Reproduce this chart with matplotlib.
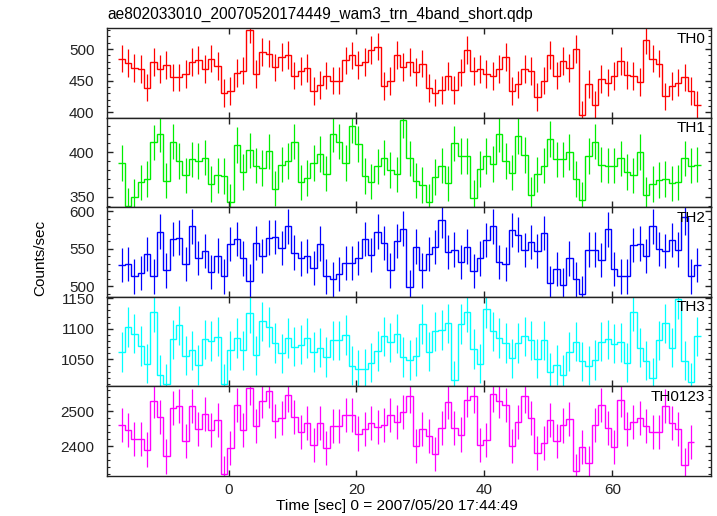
import numpy as np
import matplotlib
matplotlib.use("Agg")
import matplotlib.pyplot as plt
from matplotlib.ticker import MultipleLocator

plt.rcParams['font.family'] = ['Liberation Sans', 'DejaVu Sans']

# time binning (1 s bins)
t_start = -17.2
n_bins = 91
edges = t_start + np.arange(n_bins + 1)
centers = edges[:-1] + 0.5

th0 = [485, 478, 470, 468, 439, 480, 469, 475, 455, 455, 460, 479, 483, 469, 485, 473,
       430, 433, 462, 466, 531, 460, 495, 493, 471, 487, 491, 458, 465, 470, 433, 443,
       458, 450, 450, 482, 490, 475, 480, 498, 504, 441, 449, 491, 472, 480, 464, 477,
       438, 431, 435, 457, 435, 463, 499, 465, 469, 460, 457, 468, 487, 433, 444, 469,
       465, 424, 450, 491, 458, 481, 470, 500, 395, 445, 411, 453, 447, 457, 481, 459,
       457, 448, 515, 485, 477, 425, 441, 447, 455, 433, 412]
th1 = [388, 340, 350, 366, 370, 411, 420, 368, 412, 390, 374, 392, 390, 394, 364, 374,
       373, 344, 408, 378, 402, 385, 382, 401, 359, 386, 390, 412, 366, 371, 388, 398,
       376, 420, 412, 388, 430, 409, 373, 367, 384, 394, 380, 375, 436, 393, 368, 363,
       344, 372, 385, 365, 410, 396, 396, 349, 381, 396, 387, 420, 390, 377, 418, 397,
       352, 375, 385, 415, 392, 392, 400, 370, 346, 396, 412, 386, 385, 385, 393, 378,
       374, 400, 352, 364, 369, 370, 365, 366, 393, 385, 386]
th2 = [528, 530, 513, 518, 543, 513, 573, 521, 563, 565, 530, 580, 538, 547, 519, 541,
       513, 556, 563, 537, 507, 558, 540, 565, 566, 551, 580, 545, 537, 540, 524, 557,
       513, 509, 516, 531, 531, 538, 563, 542, 573, 558, 521, 560, 577, 499, 553, 521,
       543, 552, 588, 546, 549, 532, 553, 520, 537, 562, 580, 532, 530, 575, 569, 548,
       559, 547, 571, 504, 523, 501, 537, 509, 490, 549, 549, 535, 576, 523, 513, 513,
       555, 557, 540, 580, 550, 547, 562, 549, 592, 513, 528]
th3 = [1062, 1103, 1092, 1072, 1043, 1127, 1025, 1010, 1083, 1106, 1056, 1065, 1041, 1083, 1080, 1087,
       1010, 1065, 1085, 1065, 1125, 1057, 1112, 1103, 1077, 1060, 1085, 1071, 1074, 1085, 1062, 1069,
       1054, 1081, 1081, 1090, 1040, 1034, 1035, 1045, 1064, 1088, 1078, 1092, 1054, 1049, 1055, 1108,
       1063, 1096, 1098, 1109, 1016, 1108, 1127, 1067, 1043, 1133, 1096, 1085, 1077, 1052, 1077, 1088,
       1081, 1051, 1081, 1029, 1041, 1025, 1063, 1079, 1047, 1040, 1049, 1079, 1083, 1076, 1078, 1045,
       1128, 1069, 1048, 1020, 1081, 1109, 1069, 1148, 1048, 1013, 1088]
th0123 = [2461, 2447, 2421, 2421, 2390, 2530, 2484, 2370, 2510, 2514, 2415, 2515, 2448, 2492, 2445, 2475,
          2321, 2395, 2517, 2445, 2568, 2458, 2530, 2559, 2472, 2481, 2547, 2484, 2440, 2465, 2403, 2466,
          2395, 2458, 2458, 2490, 2488, 2436, 2450, 2467, 2455, 2461, 2489, 2470, 2498, 2545, 2400, 2450,
          2429, 2378, 2452, 2527, 2452, 2433, 2533, 2543, 2402, 2417, 2548, 2529, 2519, 2400, 2470, 2543,
          2481, 2379, 2408, 2474, 2414, 2459, 2478, 2329, 2398, 2352, 2461, 2517, 2452, 2397, 2533, 2448,
          2470, 2481, 2457, 2440, 2440, 2516, 2467, 2448, 2346, 2411]

series = [th0, th1, th2, th3, th0123]
errors = [22, 20, 23, 32, 49]
names = ['TH0', 'TH1', 'TH2', 'TH3', 'TH0123']
colors = ['#ff0000', '#00ee00', '#0000ff', '#00ffff', '#ff00ff']
ylims = [(391, 533), (338, 438.7), (485.5, 605.5), (1006, 1152), (2314, 2571)]
majors = [50, 50, 50, 50, 100]
minors = [10, 10, 10, 10, 20]

fig, axes = plt.subplots(5, 1, sharex=True, figsize=(7.17, 5.16), dpi=100)
fig.subplots_adjust(left=0.1492, right=0.9923, top=0.9452, bottom=0.0775, hspace=0)

for ax, vals, err, name, c, yl, mj, mn in zip(axes, series, errors, names, colors, ylims, majors, minors):
    vals = np.array(vals[:n_bins], dtype=float)
    ax.errorbar(centers[:len(vals)], vals, yerr=err, fmt='none', ecolor=c, elinewidth=0.9, capsize=0)
    ax.stairs(vals, edges[:len(vals) + 1], baseline=None, color=c, lw=1.0)
    ax.set_ylim(*yl)
    ax.set_xlim(-19, 75.5)
    ax.yaxis.set_major_locator(MultipleLocator(mj))
    ax.yaxis.set_minor_locator(MultipleLocator(mn))
    ax.xaxis.set_major_locator(MultipleLocator(20))
    ax.tick_params(which='both', direction='in', top=True, right=True, labelsize=11, colors='#222222')
    ax.tick_params(which='major', length=4, width=1)
    ax.tick_params(which='minor', length=2.2, width=0.8)
    ax.tick_params(axis='y', pad=9)
    for s in ax.spines.values():
        s.set_color('#222222')
        s.set_linewidth(1.0)
    ax.text(0.99, 0.96, name, transform=ax.transAxes, ha='right', va='top', fontsize=11)

axes[-1].tick_params(axis='x', pad=5)
fig.text(107 / 717, 1 - 14 / 516, 'ae802033010_20070520174449_wam3_trn_4band_short.qdp',
         ha='left', va='center', fontsize=11.2)
fig.text(40 / 717, 0.5, 'Counts/sec', rotation=90, ha='center', va='center', fontsize=11)
fig.text(397 / 717, 1 - 506 / 516, 'Time [sec] 0 = 2007/05/20 17:44:49', ha='center', va='center',
         fontsize=11.1)

fig.savefig('out.png', dpi=100)
